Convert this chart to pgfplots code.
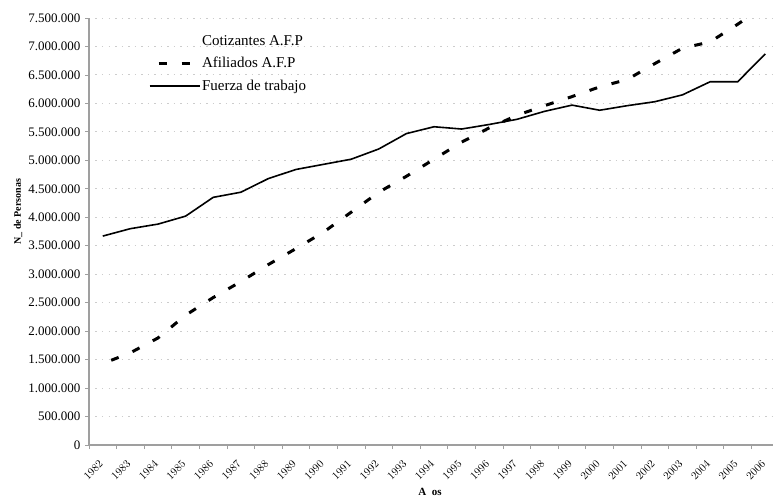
\documentclass[border=0pt]{standalone}
\usepackage{fontspec}
\setmainfont{Liberation Serif}
\usepackage{pgfplots}
\pgfplotsset{compat=1.18}
\begin{document}
\begin{tikzpicture}
\useasboundingbox (-89pt,-54pt) rectangle (684pt,445pt);
\begin{axis}[
  at={(0pt,0pt)}, anchor=south west,
  scale only axis, width=684pt, height=427pt,
  xmin=1981.5, xmax=2006.28, ymin=0, ymax=7500000,
  axis x line*=bottom, axis y line*=left,
  axis line style={draw=gray!75, line width=1.3pt, -},
  tick align=outside,
  xtick={1982,1983,1984,1985,1986,1987,1988,1989,1990,1991,1992,1993,1994,1995,1996,1997,1998,1999,2000,2001,2002,2003,2004,2005,2006},
  major x tick style={draw=none},
  minor xtick={1981.5,1982.5,1983.5,1984.5,1985.5,1986.5,1987.5,1988.5,1989.5,1990.5,1991.5,1992.5,1993.5,1994.5,1995.5,1996.5,1997.5,1998.5,1999.5,2000.5,2001.5,2002.5,2003.5,2004.5,2005.5},
  minor tick length=4pt, major tick length=4pt,
  minor x tick style={draw=gray!75, line width=0.8pt},
  y tick style={draw=gray!75, line width=0.8pt},
  xticklabel style={rotate=45, anchor=north east, font=\fontsize{11}{12}\selectfont, xshift=-7pt, yshift=-1pt},
  xticklabel={\pgfmathprintnumber[fixed,1000 sep={},precision=0]{\tick}},
  ytick={0,500000,1000000,1500000,2000000,2500000,3000000,3500000,4000000,4500000,5000000,5500000,6000000,6500000,7000000,7500000},
  scaled y ticks=false,
  yticklabel style={font=\fontsize{13}{14}\selectfont, xshift=-1pt, /pgf/number format/.cd, fixed, precision=0, 1000 sep={.}, assume math mode=true},
  ymajorgrids,
  major y grid style={gray!40, line width=0.9pt, dash pattern=on 1.5pt off 5pt},
  ylabel={\textbf{N\_ de Personas}},
  ylabel style={at={(axis description cs:-0.1038,0.546)}, anchor=center, rotate=0, font=\fontsize{10}{11}\selectfont},
  xlabel={\textbf{A\ \ os}},
  xlabel style={at={(axis description cs:0.4985,-0.11)}, anchor=center, font=\fontsize{11}{12}\selectfont},
  legend image code/.code={\draw[#1] (0pt,0pt) -- (50pt,0pt);},
  legend cell align=left,
  legend style={draw=none, fill=none, at={(axis description cs:0.086,0.962)}, anchor=north west, font=\fontsize{15}{16}\selectfont, inner sep=0pt, row sep=8.5pt, nodes={inner sep=1pt}},
]
\addlegendimage{legend image code/.code={}}
\addlegendentry{Cotizantes A.F.P}
\addplot[black, line width=3pt, dash pattern=on 8pt off 15pt, dash phase=14pt] coordinates {
(1982,1430000) (1983,1620000) (1984,1880000) (1985,2280000) (1986,2590000)
(1987,2870000) (1988,3170000) (1989,3450000) (1990,3740000) (1991,4090000)
(1992,4440000) (1993,4720000) (1994,5020000) (1995,5320000) (1996,5570000)
(1997,5790000) (1998,5960000) (1999,6120000) (2000,6290000) (2001,6420000)
(2002,6700000) (2003,6970000) (2004,7080000) (2005,7390000) (2006,7720000)
};
\addlegendentry{Afiliados A.F.P}
\addplot[black, line width=1.6pt] coordinates {
(1982,3670000) (1983,3800000) (1984,3880000) (1985,4020000) (1986,4350000)
(1987,4440000) (1988,4680000) (1989,4840000) (1990,4930000) (1991,5020000)
(1992,5200000) (1993,5470000) (1994,5590000) (1995,5550000) (1996,5630000)
(1997,5720000) (1998,5860000) (1999,5970000) (2000,5880000) (2001,5960000)
(2002,6030000) (2003,6150000) (2004,6380000) (2005,6380000) (2006,6870000)
};
\addlegendentry{Fuerza de trabajo}
\end{axis}
\end{tikzpicture}
\end{document}
